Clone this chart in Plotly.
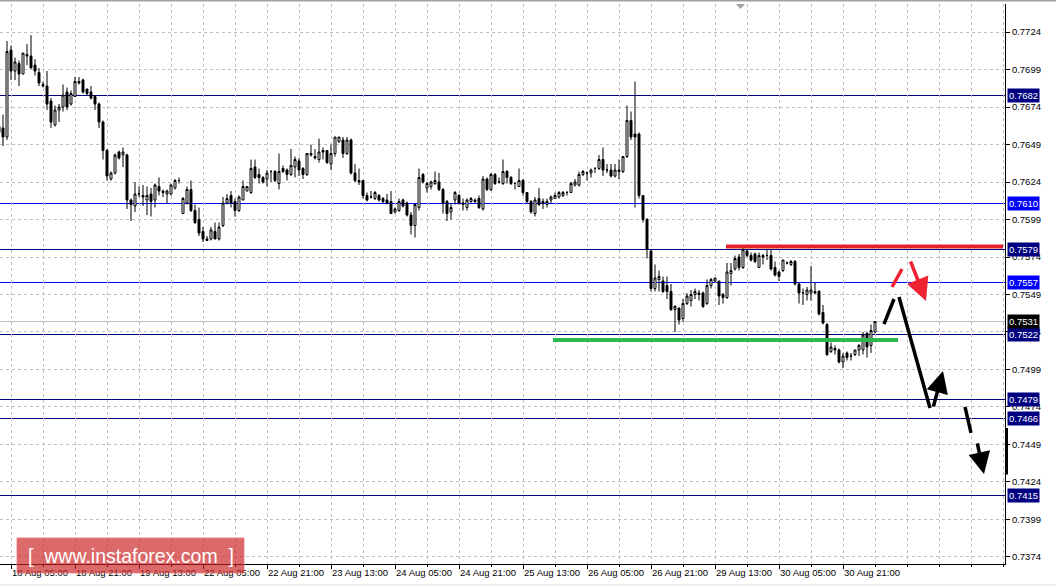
import plotly.graph_objects as go

# ---------------- data (H1 candles, bar index -1 .. 218) ----------------
opens = [0.7661,0.7660,0.7654,0.7712,0.7698,0.7703,0.7696,0.7708,0.7708,0.7702,0.7697,0.7689,0.7688,0.7678,0.7662,0.7672,0.7674,0.7684,0.7676,0.7681,0.7691,
 0.7692,0.7686,0.7684,0.7681,0.7676,0.7664,0.7645,0.7626,0.7630,0.7644,0.7642,0.7642,0.7612,0.7608,0.7616,0.7615,0.7612,0.7616,0.7612,0.7621,
 0.7618,0.7616,0.7616,0.7620,0.7625,0.7603,0.7610,0.7619,0.7605,0.7599,0.7591,0.7586,0.7586,0.7591,0.7586,0.7595,0.7610,0.7615,0.7611,0.7605,
 0.7612,0.7618,0.7617,0.7634,0.7629,0.7627,0.7626,0.7631,0.7631,0.7623,0.7633,0.7632,0.7629,0.7634,0.7638,0.7633,0.7629,0.7642,0.7641,0.7639,
 0.7645,0.7645,0.7636,0.7643,0.7651,0.7652,0.7643,0.7652,0.7630,0.7625,0.7625,0.7615,0.7614,0.7613,0.7615,0.7613,0.7612,0.7611,0.7604,0.7605,
 0.7612,0.7610,0.7602,0.7595,0.7607,0.7629,0.7620,0.7621,0.7623,0.7624,0.7619,0.7611,0.7604,0.7612,0.7615,0.7610,0.7607,0.7611,0.7612,0.7613,
 0.7606,0.7626,0.7619,0.7629,0.7624,0.7623,0.7631,0.7627,0.7623,0.7621,0.7625,0.7617,0.7611,0.7603,0.7613,0.7611,0.7609,0.7612,0.7613,0.7614,
 0.7615,0.7617,0.7617,0.7622,0.7622,0.7629,0.7630,0.7630,0.7633,0.7633,0.7639,0.7632,0.7632,0.7628,0.7632,0.7631,0.7641,0.7665,0.7656,0.7656,
 0.7615,0.7599,0.7578,0.7553,0.7559,0.7558,0.7555,0.7551,0.7539,0.7540,0.7533,0.7543,0.7545,0.7549,0.7550,0.7550,0.7543,0.7555,0.7558,0.7558,
 0.7549,0.7547,0.7563,0.7566,0.7574,0.7567,0.7578,0.7575,0.7576,0.7567,0.7575,0.7575,0.7575,0.7567,0.7564,0.7565,0.7570,0.7569,0.7571,0.7556,
 0.7550,0.7549,0.7550,0.7551,0.7551,0.7537,0.7529,0.7511,0.7513,0.7512,0.7504,0.7510,0.7508,0.7509,0.7512,0.7512,0.7523,0.7515,0.7524]
highs = [0.7663,0.7669,0.7718,0.7715,0.7707,0.7705,0.7710,0.7716,0.7722,0.7706,0.7700,0.7691,0.7698,0.7680,0.7675,0.7676,0.7689,0.7687,0.7685,0.7694,0.7694,
 0.7693,0.7686,0.7688,0.7682,0.7677,0.7665,0.7646,0.7631,0.7643,0.7645,0.7647,0.7643,0.7613,0.7624,0.7621,0.7622,0.7621,0.7620,0.7623,0.7627,
 0.7619,0.7619,0.7623,0.7626,0.7627,0.7614,0.7621,0.7625,0.7609,0.7607,0.7594,0.7588,0.7594,0.7597,0.7597,0.7614,0.7616,0.7618,0.7613,0.7615,
 0.7625,0.7621,0.7639,0.7639,0.7633,0.7628,0.7632,0.7632,0.7632,0.7643,0.7635,0.7633,0.7646,0.7641,0.7640,0.7634,0.7643,0.7649,0.7646,0.7653,
 0.7647,0.7645,0.7649,0.7654,0.7654,0.7654,0.7654,0.7653,0.7636,0.7633,0.7625,0.7617,0.7618,0.7618,0.7616,0.7614,0.7616,0.7618,0.7607,0.7613,
 0.7613,0.7611,0.7604,0.7609,0.7633,0.7630,0.7624,0.7625,0.7631,0.7630,0.7620,0.7612,0.7610,0.7618,0.7616,0.7613,0.7613,0.7614,0.7613,0.7615,
 0.7628,0.7627,0.7630,0.7630,0.7627,0.7639,0.7632,0.7628,0.7624,0.7633,0.7626,0.7617,0.7612,0.7614,0.7620,0.7613,0.7613,0.7615,0.7617,0.7618,
 0.7618,0.7618,0.7624,0.7626,0.7631,0.7632,0.7631,0.7633,0.7634,0.7642,0.7647,0.7636,0.7636,0.7636,0.7639,0.7641,0.7675,0.7671,0.7691,0.7657,
 0.7615,0.7600,0.7579,0.7569,0.7565,0.7561,0.7561,0.7556,0.7542,0.7540,0.7546,0.7550,0.7552,0.7553,0.7552,0.7551,0.7559,0.7560,0.7560,0.7558,
 0.7550,0.7570,0.7570,0.7575,0.7576,0.7581,0.7579,0.7577,0.7577,0.7577,0.7576,0.7579,0.7579,0.7571,0.7565,0.7572,0.7571,0.7572,0.7572,0.7557,
 0.7553,0.7554,0.7568,0.7557,0.7552,0.7542,0.7530,0.7517,0.7515,0.7513,0.7510,0.7511,0.7510,0.7512,0.7516,0.7524,0.7524,0.7529,0.7531]
lows = [0.7655,0.7648,0.7652,0.7692,0.7692,0.7688,0.7696,0.7702,0.7700,0.7695,0.7688,0.7687,0.7672,0.7660,0.7661,0.7664,0.7671,0.7672,0.7675,0.7681,0.7689,
 0.7683,0.7682,0.7679,0.7672,0.7660,0.7639,0.7625,0.7625,0.7629,0.7639,0.7634,0.7606,0.7598,0.7604,0.7614,0.7608,0.7602,0.7601,0.7607,0.7615,
 0.7614,0.7610,0.7615,0.7619,0.7623,0.7603,0.7609,0.7604,0.7596,0.7588,0.7584,0.7585,0.7585,0.7586,0.7585,0.7594,0.7609,0.7607,0.7601,0.7604,
 0.7612,0.7618,0.7616,0.7626,0.7623,0.7623,0.7621,0.7624,0.7624,0.7619,0.7630,0.7625,0.7628,0.7627,0.7628,0.7626,0.7628,0.7641,0.7639,0.7637,
 0.7639,0.7636,0.7632,0.7641,0.7650,0.7640,0.7642,0.7629,0.7624,0.7622,0.7613,0.7611,0.7613,0.7612,0.7611,0.7610,0.7609,0.7603,0.7603,0.7604,
 0.7607,0.7601,0.7589,0.7587,0.7605,0.7623,0.7617,0.7619,0.7622,0.7618,0.7603,0.7598,0.7599,0.7609,0.7609,0.7605,0.7605,0.7610,0.7610,0.7606,
 0.7605,0.7618,0.7618,0.7622,0.7623,0.7622,0.7623,0.7622,0.7619,0.7621,0.7615,0.7610,0.7603,0.7601,0.7608,0.7606,0.7607,0.7610,0.7613,0.7613,
 0.7614,0.7615,0.7617,0.7621,0.7621,0.7628,0.7625,0.7627,0.7630,0.7632,0.7628,0.7630,0.7627,0.7627,0.7626,0.7630,0.7640,0.7652,0.7607,0.7613,
 0.7597,0.7573,0.7551,0.7551,0.7551,0.7550,0.7546,0.7538,0.7524,0.7529,0.7531,0.7542,0.7541,0.7546,0.7545,0.7540,0.7542,0.7553,0.7557,0.7542,
 0.7543,0.7546,0.7555,0.7565,0.7565,0.7566,0.7574,0.7571,0.7570,0.7567,0.7569,0.7572,0.7565,0.7561,0.7558,0.7564,0.7569,0.7568,0.7555,0.7543,
 0.7542,0.7545,0.7545,0.7549,0.7535,0.7529,0.7508,0.7510,0.7509,0.7503,0.7500,0.7505,0.7505,0.7508,0.7508,0.7509,0.7507,0.7510,0.7523]
closes = [0.7657,0.7654,0.7711,0.7698,0.7704,0.7696,0.7710,0.7709,0.7700,0.7698,0.7690,0.7688,0.7676,0.7664,0.7672,0.7674,0.7682,0.7674,0.7683,0.7691,0.7690,
 0.7684,0.7683,0.7680,0.7676,0.7664,0.7645,0.7628,0.7630,0.7642,0.7640,0.7644,0.7612,0.7609,0.7616,0.7616,0.7614,0.7615,0.7611,0.7622,0.7618,
 0.7617,0.7618,0.7622,0.7625,0.7625,0.7613,0.7619,0.7605,0.7597,0.7590,0.7586,0.7585,0.7592,0.7586,0.7594,0.7610,0.7613,0.7610,0.7605,0.7614,
 0.7621,0.7621,0.7633,0.7627,0.7627,0.7624,0.7630,0.7631,0.7625,0.7631,0.7631,0.7629,0.7635,0.7639,0.7632,0.7629,0.7643,0.7643,0.7640,0.7644,
 0.7644,0.7637,0.7643,0.7654,0.7654,0.7643,0.7652,0.7630,0.7625,0.7624,0.7615,0.7612,0.7614,0.7617,0.7612,0.7611,0.7610,0.7603,0.7606,0.7611,
 0.7608,0.7602,0.7595,0.7609,0.7627,0.7624,0.7623,0.7624,0.7625,0.7619,0.7610,0.7603,0.7607,0.7617,0.7610,0.7609,0.7612,0.7613,0.7611,0.7607,
 0.7626,0.7619,0.7629,0.7623,0.7624,0.7631,0.7627,0.7623,0.7623,0.7625,0.7617,0.7611,0.7604,0.7612,0.7609,0.7610,0.7611,0.7614,0.7615,0.7617,
 0.7617,0.7617,0.7623,0.7624,0.7629,0.7631,0.7630,0.7632,0.7633,0.7639,0.7632,0.7632,0.7628,0.7632,0.7631,0.7641,0.7665,0.7654,0.7654,0.7615,
 0.7599,0.7579,0.7553,0.7560,0.7561,0.7551,0.7551,0.7539,0.7541,0.7532,0.7543,0.7548,0.7549,0.7551,0.7549,0.7541,0.7555,0.7559,0.7560,0.7548,
 0.7547,0.7564,0.7565,0.7573,0.7567,0.7579,0.7575,0.7572,0.7571,0.7575,0.7574,0.7575,0.7566,0.7562,0.7561,0.7572,0.7570,0.7571,0.7556,0.7550,
 0.7550,0.7552,0.7552,0.7550,0.7536,0.7530,0.7509,0.7514,0.7512,0.7504,0.7508,0.7507,0.7508,0.7512,0.7515,0.7522,0.7514,0.7525,0.7531]
bar_index = list(range(-1, len(closes) - 1))

time_tick_bars = [2, 18, 34, 50, 66, 82, 98, 114, 130, 146, 162, 178, 194, 210]
time_tick_labels = ["18 Aug 05:00", "18 Aug 21:00", "19 Aug 13:00", "22 Aug 05:00",
                    "22 Aug 21:00", "23 Aug 13:00", "24 Aug 05:00", "24 Aug 21:00",
                    "25 Aug 13:00", "26 Aug 05:00", "26 Aug 21:00", "29 Aug 13:00",
                    "30 Aug 05:00", "30 Aug 21:00"]

price_ticks = [round(0.7374 + 0.0025 * k, 4) for k in range(15)]
price_tick_labels = ["%.4f" % v for v in price_ticks]

level_prices = [0.7682, 0.7610, 0.7579, 0.7557, 0.7522, 0.7479, 0.7466, 0.7415]
level_colors = ["#000080", "#0000ff", "#000080", "#0000ff", "#000080", "#000080", "#000080", "#000080"]
last_price = 0.7531

resistance = dict(x0=180.75, x1=250.0, price=0.7581)
support = dict(x0=137.5, x1=223.75, price=0.75187)

# forecast drawing (bar index, price)
black_segments = [(220.25, 0.75293, 222.75, 0.75460),
                  (224.0, 0.75473, 231.75, 0.74733),
                  (240.5, 0.74740, 242.0, 0.74567)]
black_arrows = [(232.5, 0.74733, 235.0, 0.74980),
                (243.5, 0.74507, 245.25, 0.74293)]
red_segments = [(222.25, 0.75540, 224.75, 0.75660)]
red_arrows = [(226.75, 0.75720, 230.75, 0.75447)]

# ---------------- figure ----------------
W, H = 1056, 588
ML, MR, MT, MB = 0, 51, 4, 24
PW, PH = W - ML - MR, H - MT - MB
FONT = "Liberation Sans"
GRID = "#c0c0c0"


def px_x(px):
    return (px - ML) / PW


def px_y(py):
    return (H - MB - py) / PH


fig = go.Figure()
fig.add_trace(go.Candlestick(
    x=bar_index, open=opens, high=highs, low=lows, close=closes,
    increasing=dict(line=dict(color="black", width=1), fillcolor="white"),
    decreasing=dict(line=dict(color="black", width=1), fillcolor="black"),
    whiskerwidth=0, hoverinfo="skip", showlegend=False,
))

shapes = []
for p, c in zip(level_prices, level_colors):
    shapes.append(dict(type="line", xref="paper", x0=0, x1=1, yref="y", y0=p, y1=p,
                       line=dict(color=c, width=1), layer="below"))
shapes.append(dict(type="line", xref="paper", x0=0, x1=1, yref="y", y0=last_price, y1=last_price,
                   line=dict(color=GRID, width=1), layer="below"))
shapes.append(dict(type="line", xref="x", x0=resistance["x0"], x1=resistance["x1"], yref="y",
                   y0=resistance["price"], y1=resistance["price"],
                   line=dict(color="#e8202c", width=4), layer="above"))
shapes.append(dict(type="line", xref="x", x0=support["x0"], x1=support["x1"], yref="y",
                   y0=support["price"], y1=support["price"],
                   line=dict(color="#2fb84f", width=4), layer="above"))
for (x0, y0, x1, y1) in black_segments:
    shapes.append(dict(type="line", xref="x", yref="y", x0=x0, y0=y0, x1=x1, y1=y1,
                       line=dict(color="black", width=3.5), layer="above"))
for (x0, y0, x1, y1) in red_segments:
    shapes.append(dict(type="line", xref="x", yref="y", x0=x0, y0=y0, x1=x1, y1=y1,
                       line=dict(color="#ee2233", width=3.5), layer="above"))
# price-range marker on the axis
shapes.append(dict(type="line", xref="paper", x0=1 + 1.5 / PW, x1=1 + 1.5 / PW, yref="y",
                   y0=0.7429, y1=0.7460, line=dict(color="black", width=3)))
# chart-shift marker at top
shapes.append(dict(type="path", xref="paper", yref="paper",
                   path="M %f %f L %f %f L %f %f Z" % (px_x(736), px_y(4), px_x(745), px_y(4), px_x(740.5), px_y(9)),
                   fillcolor="#a0a0a0", line=dict(width=0)))
# window edges
shapes.append(dict(type="line", xref="paper", yref="paper", x0=px_x(0), x1=px_x(W),
                   y0=px_y(0.5), y1=px_y(0.5), line=dict(color="#a0a0a0", width=2)))
shapes.append(dict(type="line", xref="paper", yref="paper", x0=px_x(0), x1=px_x(W),
                   y0=px_y(585), y1=px_y(585), line=dict(color="#e0e0e0", width=1)))
# logo box
shapes.append(dict(type="rect", xref="paper", yref="paper", x0=px_x(17), x1=px_x(244),
                   y0=px_y(573), y1=px_y(538), fillcolor="rgba(205,35,35,0.68)",
                   line=dict(color="rgba(230,120,120,0.8)", width=1), layer="above"))

annotations = []
for p, c in zip(level_prices + [last_price], level_colors + ["black"]):
    annotations.append(dict(x=1, xref="paper", xanchor="left", xshift=2, y=p, yref="y",
                            yanchor="middle", text="%.4f" % p, showarrow=False,
                            bgcolor=c, font=dict(color="white", size=9.5, family=FONT),
                            borderpad=1, align="center"))
for (x0, y0, x1, y1) in black_arrows:
    annotations.append(dict(x=x1, y=y1, ax=x0, ay=y0, xref="x", yref="y", axref="x", ayref="y",
                            text="", showarrow=True, arrowhead=2, arrowsize=1.25,
                            arrowwidth=3.5, arrowcolor="black", standoff=0))
for (x0, y0, x1, y1) in red_arrows:
    annotations.append(dict(x=x1, y=y1, ax=x0, ay=y0, xref="x", yref="y", axref="x", ayref="y",
                            text="", showarrow=True, arrowhead=2, arrowsize=1.3,
                            arrowwidth=3.5, arrowcolor="#ee2233", standoff=0))
annotations.append(dict(x=px_x(131), y=px_y(555.5), xref="paper", yref="paper",
                        text="[&nbsp;&nbsp;www.instaforex.com&nbsp;&nbsp;]", showarrow=False,
                        font=dict(color="white", size=19.5, family="Liberation Sans"),
                        xanchor="center", yanchor="middle"))

fig.update_layout(
    width=W, height=H,
    margin=dict(l=ML, r=MR, t=MT, b=MB, pad=0, autoexpand=False),
    paper_bgcolor="white", plot_bgcolor="white",
    font=dict(family=FONT, size=9.5, color="black"),
    showlegend=False,
    shapes=shapes, annotations=annotations,
    xaxis=dict(
        range=[-0.75, 250.5], rangeslider=dict(visible=False), automargin=False,
        tickmode="array", tickvals=time_tick_bars, ticktext=time_tick_labels, tickangle=0,
        ticks="outside", ticklen=4, tickcolor="black", tickwidth=1,
        ticklabelposition="outside right",
        showline=True, linecolor="black", linewidth=1,
        showgrid=True, gridcolor=GRID, griddash="3px,3px", gridwidth=1,
        minor=dict(tickmode="linear", tick0=2, dtick=8, ticks="outside", ticklen=2,
                   tickcolor="black", showgrid=True, gridcolor=GRID, griddash="3px,3px"),
        zeroline=False, fixedrange=True,
    ),
    yaxis=dict(
        side="right", range=[0.73693, 0.77427], automargin=False,
        tickmode="array", tickvals=price_ticks, ticktext=price_tick_labels,
        ticks="outside", ticklen=4, tickcolor="black",
        showline=True, linecolor="black", linewidth=1,
        showgrid=True, gridcolor=GRID, griddash="3px,3px", gridwidth=1,
        zeroline=False, fixedrange=True,
    ),
)

post_js = (
    "document.body.style.margin='0';document.body.style.padding='0';"
    "document.body.style.overflow='hidden';"
    "var st=document.createElement('style');"
    "st.textContent='.layer-below .shapelayer path{shape-rendering:crispEdges}';"
    "document.head.appendChild(st);"
)
fig.write_html("out.html", config={"displayModeBar": False}, post_script=post_js)
